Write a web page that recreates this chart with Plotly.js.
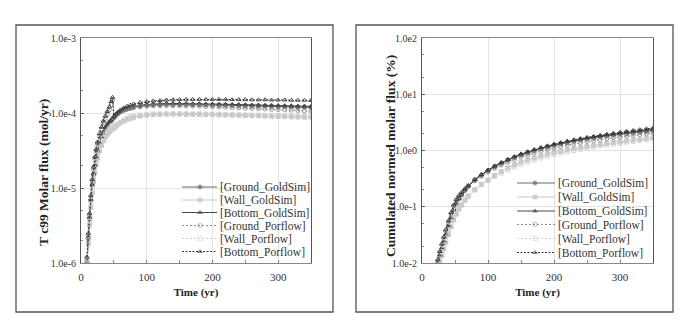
<!DOCTYPE html>
<html>
<head>
<meta charset="utf-8">
<script src="https://cdn.plot.ly/plotly-3.0.1.min.js"></script>
<style>html,body{margin:0;padding:0;background:#fff;}#chart{width:681px;height:322px;}</style>
</head>
<body>
<div id="chart"></div>
<script>
// ---------- DATA ----------
var seriesNames = ["[Ground_GoldSim]", "[Wall_GoldSim]", "[Bottom_GoldSim]", "[Ground_Porflow]", "[Wall_Porflow]", "[Bottom_Porflow]"];

// Left chart: Tc99 molar flux (mol/yr)
var timeLeft = [9,11,13,15,17,19,21,23,25,28,31,34,37,40,43,46,48,50,53,56,60,65,70,75,80,
  90,100,110,120,130,140,150,160,170,180,190,200,210,220,230,240,250,260,270,280,290,300,310,320,330,340,350];

var fluxGroundGoldSim = [1.0e-6,2.1e-6,3.9e-6,6.8e-6,1.08e-5,1.5e-5,1.95e-5,2.5e-5,3.1e-5,3.9e-5,4.7e-5,5.5e-5,6.2e-5,6.8e-5,7.4e-5,7.9e-5,8.3e-5,8.7e-5,9.3e-5,9.8e-5,1.04e-4,1.09e-4,1.13e-4,1.16e-4,1.19e-4,
  1.23e-4,1.26e-4,1.28e-4,1.29e-4,1.30e-4,1.30e-4,1.30e-4,1.30e-4,1.29e-4,1.29e-4,1.28e-4,1.28e-4,1.27e-4,1.27e-4,1.26e-4,1.25e-4,1.25e-4,1.24e-4,1.23e-4,1.23e-4,1.22e-4,1.21e-4,1.21e-4,1.20e-4,1.19e-4,1.19e-4,1.18e-4];
var fluxWallGoldSim = [9.0e-7,1.8e-6,3.2e-6,5.5e-6,8.6e-6,1.22e-5,1.6e-5,2.05e-5,2.5e-5,3.1e-5,3.7e-5,4.25e-5,4.75e-5,5.2e-5,5.6e-5,5.95e-5,6.15e-5,6.35e-5,6.7e-5,7.0e-5,7.4e-5,7.8e-5,8.2e-5,8.5e-5,8.75e-5,
  9.1e-5,9.35e-5,9.5e-5,9.6e-5,9.65e-5,9.65e-5,9.65e-5,9.6e-5,9.6e-5,9.55e-5,9.5e-5,9.5e-5,9.45e-5,9.4e-5,9.35e-5,9.3e-5,9.25e-5,9.2e-5,9.15e-5,9.1e-5,9.05e-5,9.0e-5,8.95e-5,8.9e-5,8.85e-5,8.8e-5,8.75e-5];
var fluxBottomGoldSim = [1.05e-6,2.2e-6,4.1e-6,7.1e-6,1.12e-5,1.56e-5,2.02e-5,2.6e-5,3.2e-5,4.0e-5,4.85e-5,5.65e-5,6.4e-5,7.0e-5,7.6e-5,8.1e-5,8.5e-5,8.9e-5,9.5e-5,1.0e-4,1.06e-4,1.12e-4,1.16e-4,1.2e-4,1.23e-4,
  1.27e-4,1.3e-4,1.32e-4,1.33e-4,1.34e-4,1.34e-4,1.34e-4,1.34e-4,1.33e-4,1.33e-4,1.32e-4,1.32e-4,1.31e-4,1.31e-4,1.3e-4,1.3e-4,1.29e-4,1.28e-4,1.28e-4,1.27e-4,1.27e-4,1.26e-4,1.25e-4,1.25e-4,1.24e-4,1.24e-4,1.23e-4];
var fluxGroundPorflow = [1.1e-6,2.3e-6,4.3e-6,7.5e-6,1.2e-5,1.75e-5,2.4e-5,3.1e-5,3.8e-5,4.9e-5,6.0e-5,7.2e-5,8.4e-5,9.6e-5,1.1e-4,1.3e-4,1.5e-4,8.6e-5,9.2e-5,9.7e-5,1.03e-4,1.08e-4,1.12e-4,1.15e-4,1.18e-4,
  1.21e-4,1.23e-4,1.24e-4,1.25e-4,1.25e-4,1.25e-4,1.25e-4,1.24e-4,1.24e-4,1.23e-4,1.22e-4,1.21e-4,1.2e-4,1.19e-4,1.18e-4,1.17e-4,1.16e-4,1.15e-4,1.14e-4,1.13e-4,1.12e-4,1.11e-4,1.1e-4,1.09e-4,1.08e-4,1.07e-4,1.06e-4];
var fluxWallPorflow = [1.0e-6,2.0e-6,3.6e-6,6.1e-6,9.5e-6,1.35e-5,1.78e-5,2.25e-5,2.75e-5,3.4e-5,4.05e-5,4.65e-5,5.2e-5,5.7e-5,6.15e-5,6.55e-5,6.8e-5,6.2e-5,6.6e-5,7.0e-5,7.5e-5,8.0e-5,8.45e-5,8.8e-5,9.05e-5,
  9.4e-5,9.6e-5,9.7e-5,9.75e-5,9.8e-5,9.8e-5,9.8e-5,9.8e-5,9.75e-5,9.75e-5,9.7e-5,9.7e-5,9.65e-5,9.6e-5,9.55e-5,9.5e-5,9.45e-5,9.4e-5,9.35e-5,9.3e-5,9.25e-5,9.2e-5,9.15e-5,9.1e-5,9.05e-5,9.0e-5,8.95e-5];
var fluxBottomPorflow = [1.2e-6,2.5e-6,4.6e-6,8.0e-6,1.3e-5,1.9e-5,2.6e-5,3.3e-5,4.1e-5,5.3e-5,6.5e-5,7.8e-5,9.1e-5,1.05e-4,1.2e-4,1.42e-4,1.62e-4,9.0e-5,9.7e-5,1.03e-4,1.1e-4,1.17e-4,1.23e-4,1.28e-4,1.32e-4,
  1.38e-4,1.42e-4,1.45e-4,1.47e-4,1.49e-4,1.5e-4,1.51e-4,1.52e-4,1.52e-4,1.52e-4,1.52e-4,1.52e-4,1.52e-4,1.52e-4,1.51e-4,1.51e-4,1.51e-4,1.5e-4,1.5e-4,1.5e-4,1.49e-4,1.49e-4,1.49e-4,1.48e-4,1.48e-4,1.48e-4,1.47e-4];

// Right chart: cumulated normed molar flux (%)
var timeRight = [24,27,30,33,36,40,44,48,52,56,60,65,70,
  80,90,100,110,120,130,140,150,160,170,180,190,200,210,220,230,240,250,260,270,280,290,300,310,320,330,340,350];

var cumGroundGoldSim = [0.010,0.0135,0.0178,0.0234,0.031,0.045,0.063,0.087,0.112,0.138,0.162,0.195,0.229,
  0.295,0.363,0.437,0.513,0.589,0.67,0.75,0.83,0.91,0.99,1.07,1.15,1.23,1.31,1.38,1.46,1.53,1.60,1.67,1.74,1.81,1.88,1.94,2.00,2.06,2.12,2.18,2.24];
var cumWallGoldSim = [0.0075,0.0102,0.0135,0.0178,0.023,0.032,0.044,0.058,0.074,0.091,0.107,0.13,0.153,
  0.2,0.25,0.30,0.36,0.42,0.49,0.555,0.62,0.68,0.74,0.8,0.86,0.92,0.97,1.03,1.08,1.13,1.18,1.23,1.28,1.33,1.38,1.43,1.48,1.53,1.58,1.63,1.68];
var cumBottomGoldSim = [0.010,0.0138,0.0183,0.024,0.032,0.046,0.065,0.089,0.115,0.141,0.166,0.2,0.235,
  0.303,0.373,0.449,0.527,0.605,0.69,0.77,0.855,0.94,1.02,1.10,1.19,1.27,1.35,1.43,1.51,1.59,1.66,1.73,1.81,1.88,1.95,2.02,2.09,2.16,2.23,2.30,2.37];
var cumGroundPorflow = [0.011,0.0155,0.021,0.028,0.037,0.053,0.075,0.103,0.13,0.152,0.172,0.2,0.23,
  0.29,0.35,0.415,0.48,0.55,0.62,0.69,0.76,0.83,0.9,0.97,1.04,1.11,1.18,1.25,1.31,1.38,1.44,1.5,1.56,1.62,1.68,1.74,1.8,1.86,1.92,1.98,2.04];
var cumWallPorflow = [0.0085,0.0118,0.016,0.021,0.028,0.039,0.053,0.07,0.087,0.103,0.118,0.138,0.158,
  0.2,0.245,0.29,0.34,0.395,0.45,0.51,0.57,0.625,0.68,0.735,0.79,0.845,0.9,0.95,1.0,1.05,1.1,1.15,1.2,1.25,1.3,1.35,1.4,1.45,1.5,1.55,1.6];
var cumBottomPorflow = [0.0115,0.016,0.022,0.029,0.039,0.056,0.079,0.108,0.135,0.158,0.18,0.21,0.24,
  0.305,0.375,0.45,0.53,0.61,0.69,0.78,0.87,0.95,1.04,1.13,1.21,1.3,1.38,1.47,1.55,1.63,1.71,1.79,1.87,1.95,2.03,2.11,2.19,2.27,2.35,2.43,2.51];

var xTickVals = [0, 100, 200, 300];
var yTickValsLeft = [1e-6, 1e-5, 1e-4, 1e-3];
var yTickTextLeft = ["1.0e-6", "1.0e-5", "1.0e-4", "1.0e-3"];
var yTickValsRight = [1e-2, 1e-1, 1e0, 1e1, 1e2];
var yTickTextRight = ["1.0e-2", "1.0e-1", "1.0e0", "1.0e1", "1.0e2"];
var xTitle = "Time (yr)";
var yTitleLeft = "T c99 Molar flux (mol/yr)";
var yTitleRight = "Cumulated normed molar flux (%)";

// ---------- STYLES ----------
var seriesColors = ["#6a6a6a", "#c4c4c4", "#474747", "#8e8e8e", "#d2d2d2", "#383838"];
var seriesDash = ["solid", "solid", "solid", "2px,2px", "2px,2px", "2px,1.5px"];
var seriesSymbols = ["circle", "square", "triangle-up", "circle-open", "square-open", "triangle-up-open"];

var leftY = [fluxGroundGoldSim, fluxWallGoldSim, fluxBottomGoldSim, fluxGroundPorflow, fluxWallPorflow, fluxBottomPorflow];
var rightY = [cumGroundGoldSim, cumWallGoldSim, cumBottomGoldSim, cumGroundPorflow, cumWallPorflow, cumBottomPorflow];

var W = 681, H = 322;
var FONT = "\"Liberation Serif\", \"Times New Roman\", serif";

var traces = [];
function addSeries(xs, ysList, xa, ya) {
  for (var i = 0; i < seriesNames.length; i++) {
    traces.push({
      type: "scatter", mode: "lines+markers", x: xs, y: ysList[i], name: seriesNames[i],
      xaxis: xa, yaxis: ya, showlegend: false, cliponaxis: true,
      line: {color: seriesColors[i], width: 1, dash: seriesDash[i]},
      marker: {symbol: seriesSymbols[i], size: 4, color: seriesColors[i], line: {color: seriesColors[i], width: 0.9}}
    });
  }
}
addSeries(timeLeft, leftY, "x", "y");
addSeries(timeRight, rightY, "x2", "y2");

// compact legends drawn on a full-figure pixel overlay (x3/y3)
var legends = [
  {x0: 182, xm: 200, x1: 217, tx: 218, rows: [187, 200, 212.5, 225.5, 238.5, 251.5]},
  {x0: 517, xm: 535, x1: 555, tx: 556, rows: [183, 197, 211, 224.5, 238.5, 252.5]}
];
var annotations = [];
legends.forEach(function (lg) {
  for (var i = 0; i < seriesNames.length; i++) {
    var yy = lg.rows[i];
    traces.push({
      type: "scatter", mode: "lines+markers", x: [lg.x0, lg.xm, lg.x1], y: [yy, yy, yy],
      xaxis: "x3", yaxis: "y3", showlegend: false, hoverinfo: "skip",
      line: {color: seriesColors[i], width: 1, dash: seriesDash[i]},
      marker: {symbol: seriesSymbols[i], size: [0, 4, 0], color: seriesColors[i], line: {color: seriesColors[i], width: 0.9}}
    });
    annotations.push({
      xref: "x3", yref: "y3", x: lg.tx, y: yy, text: seriesNames[i], showarrow: false,
      xanchor: "left", yanchor: "middle", font: {family: FONT, size: 11.5, color: "#333"}
    });
  }
});
// vertical axis titles
annotations.push({xref: "x3", yref: "y3", x: 43, y: 173, text: "<b>" + yTitleLeft + "</b>", textangle: -90,
  showarrow: false, xanchor: "center", yanchor: "middle", font: {family: FONT, size: 13.5, color: "#222"}});
annotations.push({xref: "x3", yref: "y3", x: 390, y: 156, text: "<b>" + yTitleRight + "</b>", textangle: -90,
  showarrow: false, xanchor: "center", yanchor: "middle", font: {family: FONT, size: 13.5, color: "#222"}});

function px(x) { return x / W; }
function py(y) { return (H - y) / H; }

function xAxis(dom, anchor) {
  return {
    domain: dom, anchor: anchor,
    range: [0, 350], tickvals: xTickVals, showgrid: true, gridcolor: "#e2e2e2", gridwidth: 1,
    showline: true, mirror: true, linecolor: "#888", linewidth: 1, zeroline: false,
    ticks: "inside", ticklen: 3, tickcolor: "#777",
    minor: {dtick: 50, ticks: "inside", ticklen: 3, tickcolor: "#888", showgrid: false},
    tickfont: {family: FONT, size: 11, color: "#333"}, ticklabelstandoff: 4,
    title: {text: "<b>" + xTitle + "</b>", font: {family: FONT, size: 11, color: "#222"}, standoff: 6}
  };
}
function yAxis(dom, anchor, range, vals, text) {
  return {
    domain: dom, anchor: anchor,
    type: "log", range: range, tickvals: vals, ticktext: text, showgrid: true, gridcolor: "#e2e2e2",
    showline: true, mirror: true, linecolor: "#555", linewidth: 1, zeroline: false,
    ticks: "inside", ticklen: 3, tickcolor: "#666",
    minor: {dtick: "D2", ticks: "inside", ticklen: 2, tickcolor: "#888", showgrid: false},
    tickfont: {family: FONT, size: 10, color: "#333"}, ticklabelstandoff: 2
  };
}

var layout = {
  width: W, height: H, margin: {l: 0, r: 0, t: 0, b: 0, pad: 0},
  paper_bgcolor: "#ffffff", plot_bgcolor: "rgba(0,0,0,0)", showlegend: false,
  font: {family: FONT, color: "#333"},
  xaxis: xAxis([px(81), px(311)], "y"),
  yaxis: yAxis([py(263), py(38)], "x", [-6, -3], yTickValsLeft, yTickTextLeft),
  xaxis2: xAxis([px(422), px(653)], "y2"),
  yaxis2: yAxis([py(263), py(38)], "x2", [-2, 2], yTickValsRight, yTickTextRight),
  xaxis3: {domain: [0, 1], range: [0, W], visible: false, fixedrange: true, anchor: "y3", showgrid: false},
  yaxis3: {domain: [0, 1], range: [H, 0], visible: false, fixedrange: true, anchor: "x3", showgrid: false},
  annotations: annotations,
  shapes: [
    {type: "rect", xref: "paper", yref: "paper", x0: px(16), x1: px(333), y0: py(312), y1: py(25), line: {color: "#555", width: 1.3}},
    {type: "rect", xref: "paper", yref: "paper", x0: px(356), x1: px(673), y0: py(312), y1: py(25), line: {color: "#555", width: 1.3}}
  ]
};

Plotly.newPlot("chart", traces, layout, {staticPlot: true, displayModeBar: false});
</script>
</body>
</html>
